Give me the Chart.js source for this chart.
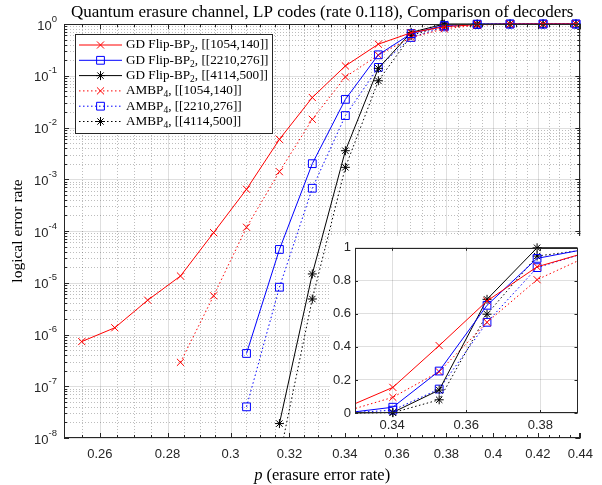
<!DOCTYPE html>
<html>
<head>
<meta charset="utf-8">
<script src="https://cdn.jsdelivr.net/npm/chart.js"></script>
<style>
  html, body { margin: 0; padding: 0; background: #fff; }
  #wrap { position: relative; width: 602px; height: 485px; }
  #main { position: absolute; left: 0; top: 0; }
  #inset { position: absolute; left: 330px; top: 236px; }
</style>
</head>
<body>
<div id="wrap">
  <canvas id="main" width="602" height="485"></canvas>
  <canvas id="inset" width="254" height="197"></canvas>
</div>
<script>
// ---------- data ----------
const pValues = [0.2549, 0.2643, 0.2740, 0.2840, 0.2945, 0.3053, 0.3165, 0.3281,
                 0.3402, 0.3527, 0.3656, 0.3791, 0.3930, 0.4074, 0.4224, 0.4379];

const gdFlip1054 = [7.3e-7, 1.35e-6, 4.6e-6, 1.35e-5, 9.3e-5, 6.4e-4, 5.9e-3, 3.8e-2,
                    0.155, 0.408, 0.678, 0.885, 0.975, 0.995, 0.999, 1.0];
const gdFlip2210 = [null, null, null, null, null, 4.3e-7, 4.4e-5, 2.0e-3,
                    0.035, 0.254, 0.652, 0.936, 0.995, 1.0, 1.0, 1.0];
const gdFlip4114 = [null, null, null, null, null, null, 1.9e-8, 1.48e-5,
                    3.56e-3, 0.139, 0.688, 1.0, 1.0, 1.0, 1.0, 1.0];
const ambp1054   = [null, null, null, 2.9e-7, 5.6e-6, 1.18e-4, 1.4e-3, 1.44e-2,
                    0.095, 0.25, 0.549, 0.807, 0.951, 0.99, 0.998, 1.0];
const ambp2210   = [null, null, null, null, null, 4.0e-8, 8.2e-6, 6.7e-4,
                    0.017, 0.145, 0.549, 0.88, 0.975, 0.998, 1.0, 1.0];
const ambp4114   = [null, null, null, null, null, null, 4.2e-9, 4.85e-6,
                    1.7e-3, 0.080, 0.598, 0.95, 0.99, 1.0, 1.0, 1.0];

const decoderNames = ['GD Flip-BP', 'GD Flip-BP', 'GD Flip-BP', 'AMBP', 'AMBP', 'AMBP'];
const decoderSubs  = ['2', '2', '2', '4', '4', '4'];
const codeNames    = ['[[1054,140]]', '[[2210,276]]', '[[4114,500]]',
                      '[[1054,140]]', '[[2210,276]]', '[[4114,500]]'];

const xMajorTicks = [0.26, 0.28, 0.30, 0.32, 0.34, 0.36, 0.38, 0.40, 0.42, 0.44];
const yMajorTicks = [1e-8, 1e-7, 1e-6, 1e-5, 1e-4, 1e-3, 1e-2, 1e-1, 1];
const insetXTicks = [0.34, 0.36, 0.38];
const insetYTicks = [0, 0.2, 0.4, 0.6, 0.8, 1];

const titleText = 'Quantum erasure channel, LP codes (rate 0.118), Comparison of decoders';
const yTitle = 'logical error rate';

// ---------- styles ----------
const allSeries = [gdFlip1054, gdFlip2210, gdFlip4114, ambp1054, ambp2210, ambp4114];
const colors  = ['#ff0000', '#0000ff', '#000000', '#ff0000', '#0000ff', '#000000'];
const markers = ['crossRot', 'rect', 'star', 'crossRot', 'rect', 'star'];
const radii   = { crossRot: 5, rect: 5.5, star: 4.5 };
const dotted  = [false, false, false, true, true, true];

const INK = '#262626';
const SANS = '"Liberation Sans", Arial, sans-serif';
const SERIF = '"Liberation Serif", "Times New Roman", serif';

// minor tick positions
const xMinorTicks = [];
for (let v = 255; v <= 435; v += 5) if (v % 20 !== 0) xMinorTicks.push(v / 1000);
const yMinorTicks = [];
for (let k = -8; k < 0; k++) for (let m = 2; m <= 9; m++) yMinorTicks.push(m * Math.pow(10, k));

const toPoints = arr => arr.map((v, i) => v == null ? null : { x: pValues[i], y: v }).filter(Boolean);

function makeDatasets(clip) {
  return allSeries.map((arr, i) => ({
    label: decoderNames[i] + decoderSubs[i] + ', ' + codeNames[i],
    data: toPoints(arr),
    borderColor: colors[i],
    borderWidth: 1,
    borderDash: dotted[i] ? [1.5, 2.5] : [],
    pointStyle: markers[i],
    pointRadius: radii[markers[i]],
    pointBorderColor: colors[i],
    pointBackgroundColor: 'rgba(0,0,0,0)',
    pointBorderWidth: 1,
    tension: 0,
    fill: false,
    clip: clip
  }));
}

function drawMarker(ctx, style, x, y, r) {
  ctx.beginPath();
  if (style === 'rect') {
    const s = r * Math.SQRT1_2;
    ctx.rect(x - s, y - s, 2 * s, 2 * s);
  } else {
    const d = r * Math.SQRT1_2;
    ctx.moveTo(x - d, y - d); ctx.lineTo(x + d, y + d);
    ctx.moveTo(x - d, y + d); ctx.lineTo(x + d, y - d);
    if (style === 'star') {
      ctx.moveTo(x - r, y); ctx.lineTo(x + r, y);
      ctx.moveTo(x, y - r); ctx.lineTo(x, y + r);
    }
  }
  ctx.stroke();
}

function crisp(v) { return Math.round(v) + 0.5; }

// ---------- main chart decorations ----------
const mainDecor = {
  id: 'mainDecor',
  beforeDraw(chart) {
    const ctx = chart.ctx;
    ctx.save();
    ctx.fillStyle = '#fff';
    ctx.fillRect(0, 0, chart.width, chart.height);
    ctx.restore();
  },
  beforeDatasetsDraw(chart) {
    const { ctx, chartArea: a, scales: { x, y } } = chart;
    ctx.save();
    ctx.lineWidth = 1;
    // minor grid (dotted)
    ctx.strokeStyle = 'rgba(38,38,38,0.3)';
    ctx.setLineDash([1, 2]);
    ctx.beginPath();
    xMinorTicks.forEach(v => { const px = crisp(x.getPixelForValue(v)); ctx.moveTo(px, a.top); ctx.lineTo(px, a.bottom); });
    yMinorTicks.forEach(v => { const py = crisp(y.getPixelForValue(v)); ctx.moveTo(a.left, py); ctx.lineTo(a.right, py); });
    ctx.stroke();
    // major grid (solid)
    ctx.setLineDash([]);
    ctx.strokeStyle = 'rgba(38,38,38,0.15)';
    ctx.beginPath();
    xMajorTicks.forEach(v => { const px = crisp(x.getPixelForValue(v)); ctx.moveTo(px, a.top); ctx.lineTo(px, a.bottom); });
    yMajorTicks.forEach(v => { const py = crisp(y.getPixelForValue(v)); ctx.moveTo(a.left, py); ctx.lineTo(a.right, py); });
    ctx.stroke();
    ctx.restore();
  },
  afterDatasetsDraw(chart) {
    const { ctx, chartArea: a, scales: { x, y } } = chart;
    ctx.save();
    // box
    ctx.strokeStyle = INK;
    ctx.lineWidth = 1;
    ctx.strokeRect(crisp(a.left), crisp(a.top), Math.round(a.right - a.left) - 1, Math.round(a.bottom - a.top) - 1);
    // inner tick marks on all four sides
    ctx.beginPath();
    const xTick = (v, len) => {
      const px = crisp(x.getPixelForValue(v));
      ctx.moveTo(px, a.bottom); ctx.lineTo(px, a.bottom - len);
      ctx.moveTo(px, a.top); ctx.lineTo(px, a.top + len);
    };
    const yTick = (v, len) => {
      const py = crisp(y.getPixelForValue(v));
      ctx.moveTo(a.left, py); ctx.lineTo(a.left + len, py);
      ctx.moveTo(a.right, py); ctx.lineTo(a.right - len, py);
    };
    xMajorTicks.forEach(v => xTick(v, 5));
    xMinorTicks.forEach(v => xTick(v, 3));
    yMajorTicks.forEach(v => yTick(v, 5));
    yMinorTicks.forEach(v => yTick(v, 3));
    ctx.stroke();

    // y tick labels 10^k
    ctx.fillStyle = INK;
    ctx.textBaseline = 'middle';
    yMajorTicks.forEach(v => {
      const py = y.getPixelForValue(v);
      const ex = String(Math.round(Math.log10(v)));
      ctx.font = '9.5px ' + SANS;
      const we = ctx.measureText(ex).width;
      const right = a.left - 7;
      ctx.textAlign = 'left';
      ctx.fillText(ex, right - we, py - 5);
      ctx.font = '13px ' + SANS;
      ctx.textAlign = 'right';
      ctx.fillText('10', right - we, py + 2);
    });

    // title
    const cx = (a.left + a.right) / 2;
    ctx.font = '17px ' + SERIF;
    ctx.textAlign = 'center';
    ctx.fillStyle = '#000';
    ctx.fillText(titleText, cx, 13);

    // x axis title with italic p
    ctx.font = 'italic 16.5px ' + SERIF;
    const wp = ctx.measureText('p').width;
    ctx.font = '16.5px ' + SERIF;
    const restX = ' (erasure error rate)';
    const wr = ctx.measureText(restX).width;
    const x0 = cx - (wp + wr) / 2;
    ctx.textAlign = 'left';
    ctx.font = 'italic 16.5px ' + SERIF;
    ctx.fillText('p', x0, 476);
    ctx.font = '16.5px ' + SERIF;
    ctx.fillText(restX, x0 + wp, 476);

    // y axis title
    ctx.save();
    ctx.translate(18, (a.top + a.bottom) / 2);
    ctx.rotate(-Math.PI / 2);
    ctx.textAlign = 'center';
    ctx.font = '15.5px ' + SERIF;
    ctx.fillText(yTitle, 0, 0);
    ctx.restore();

    // legend
    const lx = 75, ly = 34, lw = 197, lh = 99;
    ctx.fillStyle = '#fff';
    ctx.fillRect(lx, ly, lw, lh);
    ctx.strokeStyle = INK;
    ctx.strokeRect(lx + 0.5, ly + 0.5, lw, lh);
    allSeries.forEach((arr, i) => {
      const ry = ly + 11 + i * 15.3;
      ctx.strokeStyle = colors[i];
      ctx.lineWidth = 1;
      ctx.setLineDash(dotted[i] ? [1.5, 2.5] : []);
      ctx.beginPath();
      ctx.moveTo(79, ry); ctx.lineTo(122, ry);
      ctx.stroke();
      ctx.setLineDash([]);
      drawMarker(ctx, markers[i], 100.5, ry, radii[markers[i]]);
      ctx.fillStyle = '#000';
      ctx.textAlign = 'left';
      ctx.textBaseline = 'middle';
      let tx = 126;
      ctx.font = '13.2px ' + SERIF;
      ctx.fillText(decoderNames[i], tx, ry);
      tx += ctx.measureText(decoderNames[i]).width;
      ctx.font = '9.5px ' + SERIF;
      ctx.fillText(decoderSubs[i], tx, ry + 4);
      tx += ctx.measureText(decoderSubs[i]).width;
      ctx.font = '13.2px ' + SERIF;
      ctx.fillText(', ' + codeNames[i], tx, ry);
    });
    ctx.restore();
  }
};

new Chart(document.getElementById('main'), {
  type: 'line',
  data: { datasets: makeDatasets({ left: 8, right: 8, top: 8, bottom: 0 }) },
  options: {
    responsive: false,
    animation: false,
    devicePixelRatio: 1,
    layout: { padding: { left: 0, right: 14, top: 24, bottom: 0 } },
    plugins: { legend: { display: false }, tooltip: { enabled: false }, title: { display: false } },
    scales: {
      x: {
        type: 'logarithmic',
        min: 0.25,
        max: 0.44,
        afterBuildTicks: s => { s.ticks = xMajorTicks.map(v => ({ value: v })); },
        afterFit: s => { s.height = 47; },
        ticks: {
          font: { family: SANS, size: 13 },
          color: INK,
          padding: 9,
          maxRotation: 0,
          autoSkip: false,
          callback: v => String(Number(Number(v).toFixed(2)))
        },
        grid: { display: false, drawTicks: false },
        border: { display: false }
      },
      y: {
        type: 'logarithmic',
        min: 1e-8,
        max: 1,
        afterFit: s => { s.width = 64; },
        ticks: { display: false },
        grid: { display: false, drawTicks: false },
        border: { display: false }
      }
    }
  },
  plugins: [mainDecor]
});

// ---------- inset ----------
const insetDecor = {
  id: 'insetDecor',
  beforeDraw(chart) {
    const ctx = chart.ctx;
    ctx.save();
    ctx.fillStyle = '#fff';
    ctx.fillRect(0, 0, chart.width, chart.height);
    ctx.restore();
  },
  afterDatasetsDraw(chart) {
    const { ctx, chartArea: a, scales: { x, y } } = chart;
    ctx.save();
    ctx.strokeStyle = INK;
    ctx.lineWidth = 1;
    ctx.strokeRect(crisp(a.left), crisp(a.top), Math.round(a.right - a.left) - 1, Math.round(a.bottom - a.top) - 1);
    ctx.beginPath();
    insetXTicks.forEach(v => {
      const px = crisp(x.getPixelForValue(v));
      ctx.moveTo(px, a.bottom); ctx.lineTo(px, a.bottom - 3);
      ctx.moveTo(px, a.top); ctx.lineTo(px, a.top + 3);
    });
    insetYTicks.forEach(v => {
      const py = crisp(y.getPixelForValue(v));
      ctx.moveTo(a.left, py); ctx.lineTo(a.left + 3, py);
      ctx.moveTo(a.right, py); ctx.lineTo(a.right - 3, py);
    });
    ctx.stroke();
    ctx.restore();
  }
};

new Chart(document.getElementById('inset'), {
  type: 'line',
  data: { datasets: makeDatasets({ left: 0, right: 0, top: 8, bottom: 8 }) },
  options: {
    responsive: false,
    animation: false,
    devicePixelRatio: 1,
    layout: { padding: { left: 0, right: 6, top: 9, bottom: 0 } },
    plugins: { legend: { display: false }, tooltip: { enabled: false } },
    scales: {
      x: {
        type: 'linear',
        min: 0.33,
        max: 0.39,
        afterBuildTicks: s => { s.ticks = insetXTicks.map(v => ({ value: v })); },
        afterFit: s => { s.height = 20; },
        ticks: { font: { family: SANS, size: 13 }, color: INK, padding: 5, maxRotation: 0, callback: v => Number(v).toFixed(2) },
        grid: { color: 'rgba(38,38,38,0.15)', drawTicks: false },
        border: { display: false }
      },
      y: {
        type: 'linear',
        min: 0,
        max: 1,
        afterBuildTicks: s => { s.ticks = insetYTicks.map(v => ({ value: v })); },
        afterFit: s => { s.width = 25; },
        ticks: { font: { family: SANS, size: 13 }, color: INK, padding: 4, callback: v => String(Number(Number(v).toFixed(1))) },
        grid: { color: 'rgba(38,38,38,0.15)', drawTicks: false },
        border: { display: false }
      }
    }
  },
  plugins: [insetDecor]
});
</script>
</body>
</html>
